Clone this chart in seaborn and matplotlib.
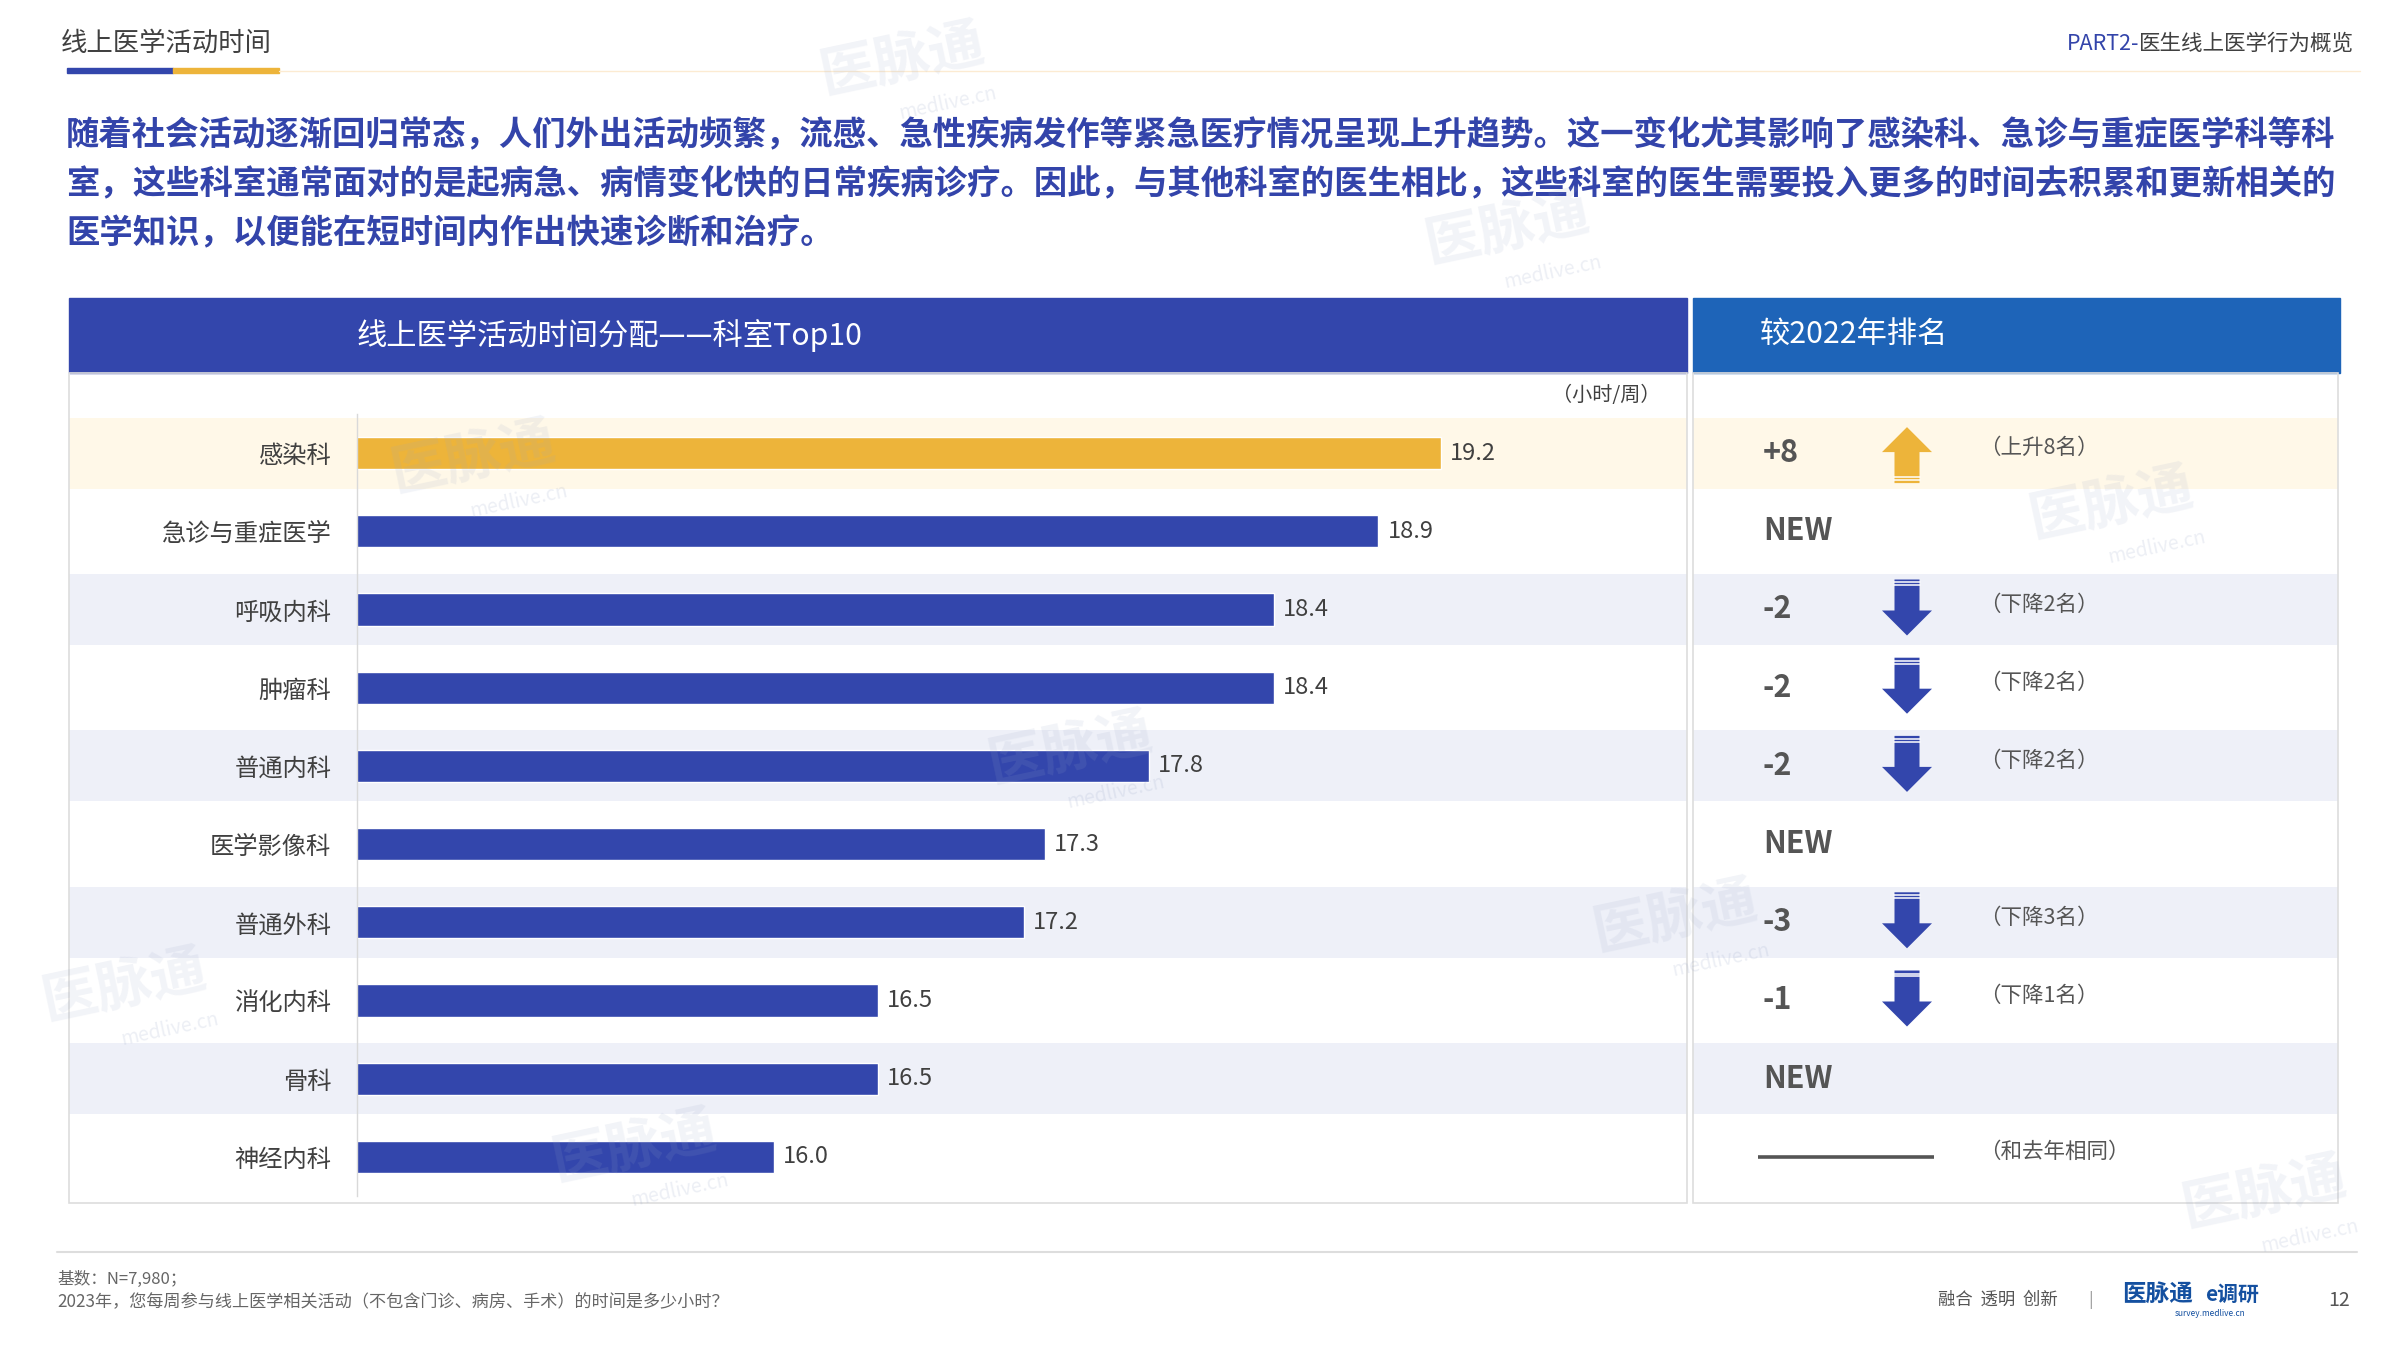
import matplotlib
matplotlib.use("Agg")
import matplotlib.pyplot as plt
import seaborn as sns
import pandas as pd
from matplotlib.patches import Rectangle, Polygon
from matplotlib.lines import Line2D

sns.set_style("white")
plt.rcParams["font.family"] = ["Noto Sans CJK SC", "DejaVu Sans"]
plt.rcParams["axes.unicode_minus"] = False

# ---- data ----
departments = ["感染科", "急诊与重症医学", "呼吸内科", "肿瘤科", "普通内科",
               "医学影像科", "普通外科", "消化内科", "骨科", "神经内科"]
hours = [19.2, 18.9, 18.4, 18.4, 17.8, 17.3, 17.2, 16.5, 16.5, 16.0]
rank_change = ["+8", "NEW", "-2", "-2", "-2", "NEW", "-3", "-1", "NEW", "0"]
rank_note = ["（上升8名）", "", "（下降2名）", "（下降2名）", "（下降2名）", "",
             "（下降3名）", "（下降1名）", "", "（和去年相同）"]

paragraph = [
    "随着社会活动逐渐回归常态，人们外出活动频繁，流感、急性疾病发作等紧急医疗情况呈现上升趋势。这一变化尤其影响了感染科、急诊与重症医学科等科",
    "室，这些科室通常面对的是起病急、病情变化快的日常疾病诊疗。因此，与其他科室的医生相比，这些科室的医生需要投入更多的时间去积累和更新相关的",
    "医学知识，以便能在短时间内作出快速诊断和治疗。",
]

BLUE = "#3346AC"
BLUE2 = "#1E64B8"
GOLD = "#EDB43A"
BAND_Y = "#FFF8E8"
BAND_B = "#EEF0F8"
DARK = "#404040"
GRAY = "#555555"
TXT_BLUE = "#3344AA"

W, H = 2400, 1349


def box(x0, y0, x1, y1):
    # pixel box (top-left origin) -> figure fraction rect
    return [x0 / W, 1 - y1 / H, (x1 - x0) / W, (y1 - y0) / H]


def fx(x):
    return x / W


def fy(y):
    return 1 - y / H


fig = plt.figure(figsize=(24, 13.49), dpi=100)

# ---- page header ----
fig.text(fx(61), fy(43), "线上医学活动时间", fontsize=19, color=DARK, va="center")
fig.add_artist(Rectangle((fx(67), fy(73)), (173 - 67) / W, 5 / H, color=BLUE, transform=fig.transFigure))
fig.add_artist(Rectangle((fx(173), fy(73)), (279 - 173) / W, 5 / H, color=GOLD, transform=fig.transFigure))
fig.add_artist(Line2D([fx(279), fx(2360)], [fy(71), fy(71)], color="#FCEBD2", lw=1, transform=fig.transFigure))

part = fig.text(fx(2354), fy(44), "医生线上医学行为概览", fontsize=15.5, color=DARK, ha="right", va="center")
fig.canvas.draw()
bb = part.get_window_extent()
fig.text(bb.x0 / W, fy(44), "PART2-", fontsize=15.5, color=TXT_BLUE, ha="right", va="center")

for i, line in enumerate(paragraph):
    fig.text(fx(66), fy(136 + 49 * i), line, fontsize=24, fontweight="bold",
             color=TXT_BLUE, va="center")

# ---- panel headers ----
fig.add_artist(Rectangle((fx(69), fy(373)), (1687 - 69) / W, 75 / H, color=BLUE, transform=fig.transFigure))
fig.add_artist(Rectangle((fx(1693), fy(373)), (2340 - 1693) / W, 75 / H, color=BLUE2, transform=fig.transFigure))
fig.text(fx(357), fy(335), "线上医学活动时间分配——科室Top10", fontsize=21.8, color="white", va="center")
fig.text(fx(1760), fy(335), "较2022年排名", fontsize=21.8, color="white", va="center")
fig.text(fx(1660), fy(395), "（小时/周）", fontsize=14.5, color=DARK, ha="right", va="center")

# panel borders
for x0, x1 in [(69, 1687), (1693, 2338)]:
    fig.add_artist(Rectangle((fx(x0), fy(1203)), (x1 - x0) / W, (1203 - 373) / H, fill=False,
                             edgecolor="#DDDDDD", lw=1.2, transform=fig.transFigure))

n = len(departments)

# ---- row bands ----
bg = fig.add_axes(box(69, 414, 1687, 1196))
rp = fig.add_axes(box(1693, 414, 2338, 1196))
for a in (bg, rp):
    a.set_ylim(n - 0.5, -0.5)
    a.axis("off")
    for i in range(n):
        if i == 0:
            a.axhspan(i - 0.455, i + 0.455, color=BAND_Y, lw=0)
        elif i % 2 == 0:
            a.axhspan(i - 0.455, i + 0.455, color=BAND_B, lw=0)
bg.set_xlim(0, 1)
rp.set_xlim(0, 645)

# ---- bars ----
ax = fig.add_axes(box(357, 414, 1687, 1196))
ax.patch.set_alpha(0)
df = pd.DataFrame({"科室": departments, "小时": hours})
sns.barplot(data=df, x="小时", y="科室", hue="科室", palette=[GOLD] + [BLUE] * (n - 1),
            width=0.41, legend=False, ax=ax, orient="h", saturation=1)
for c in ax.containers:
    ax.bar_label(c, fmt="%.1f", padding=6.5, fontsize=17, color=DARK)
ax.set_xlim(14, 20.38)
ax.set_ylim(n - 0.5, -0.5)
ax.set_xticks([])
ax.set_xlabel("")
ax.set_ylabel("")
ax.tick_params(axis="y", length=0, pad=18.5, labelsize=17.5, labelcolor=DARK)
for s in ["top", "right", "bottom"]:
    ax.spines[s].set_visible(False)
ax.spines["left"].set_color("#D9D9D9")
ax.spines["left"].set_linewidth(1)

# ---- ranking panel ----
u = 1 / 78.2  # one pixel in row units


def arrow(a, y, up, color):
    cx = 214
    if up:
        tip, base, end = y - 26 * u, y - 1 * u, y + 30 * u
        stripes = [end - 3 * u, end - 6 * u]
    else:
        tip, base, end = y + 26 * u, y + 1 * u, y - 30 * u
        stripes = [end + 3 * u, end + 6 * u]
    pts = [(cx - 12.5, end), (cx + 12.5, end), (cx + 12.5, base), (cx + 25, base),
           (cx, tip), (cx - 25, base), (cx - 12.5, base)]
    a.add_patch(Polygon(pts, closed=True, color=color, lw=0))
    for s in stripes:
        a.plot([cx - 13, cx + 13], [s, s], color="white", lw=1.1)


for i, (rc, note) in enumerate(zip(rank_change, rank_note)):
    if rc == "0":
        rp.plot([65, 241], [i, i], color=GRAY, lw=2.6, solid_capstyle="butt")
    else:
        rp.text(70, i, rc, fontsize=22, fontweight="bold", color=GRAY, ha="left", va="center")
    if rc.startswith("+"):
        arrow(rp, i, True, GOLD)
    elif rc.startswith("-"):
        arrow(rp, i, False, BLUE)
    if note:
        rp.text(286, i - 0.06, note, fontsize=15.5, color=GRAY, ha="left", va="center")

# ---- footer ----
fig.add_artist(Line2D([fx(57), fx(2357)], [fy(1252), fy(1252)], color="#DDDDDD", lw=1.5,
                      transform=fig.transFigure))
fig.text(fx(57), fy(1279), "基数：N=7,980；", fontsize=12, color="#666666", va="center")
fig.text(fx(57), fy(1302), "2023年，您每周参与线上医学相关活动（不包含门诊、病房、手术）的时间是多少小时？",
         fontsize=12.3, color="#666666", va="center")
fig.text(fx(1938), fy(1300), "融合  透明  创新", fontsize=12.5, color=GRAY, va="center")
fig.text(fx(2088), fy(1300), "|", fontsize=12, color="#999999", va="center")
fig.text(fx(2122), fy(1294), "医脉通", fontsize=17, fontweight="bold", color="#1450A0", va="center")
fig.text(fx(2205), fy(1294), "e调研", fontsize=15, fontweight="bold", color="#1450A0", va="center")
fig.text(fx(2175), fy(1314), "survey.medlive.cn", fontsize=6, color="#1450A0", va="center")
fig.text(fx(2350), fy(1300), "12", fontsize=14, color=GRAY, ha="right", va="center")

# ---- faint watermarks ----
marks = [(903, 61), (1508, 230), (474, 459), (1071, 750), (1676, 918),
         (2112, 505), (125, 987), (635, 1148), (2265, 1194)]
for x, y in marks:
    fig.text(fx(x), fy(y), "医脉通", fontsize=40, fontweight="bold", color="#9AA8C8",
             alpha=0.13, rotation=12, ha="center", va="center")
    fig.text(fx(x + 45), fy(y + 42), "medlive.cn", fontsize=14, style="italic", color="#9AA8C8",
             alpha=0.18, rotation=12, ha="center", va="center")

fig.savefig("out.png", dpi=100, facecolor="white")
